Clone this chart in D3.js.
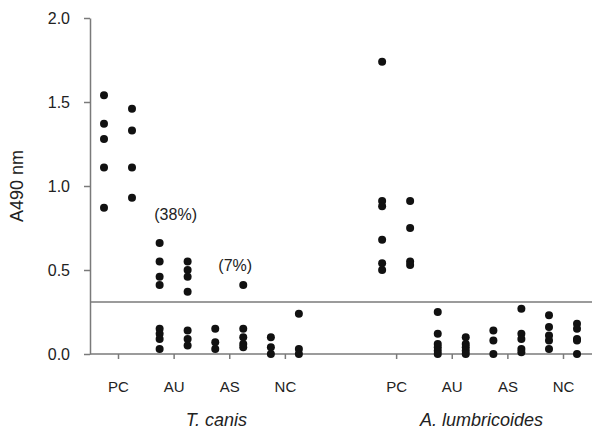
<!DOCTYPE html>
<html>
<head>
<meta charset="utf-8">
<script src="https://cdn.jsdelivr.net/npm/d3@7"></script>
<style>
  body { margin: 0; background: #fff; }
  text { font-family: "Liberation Sans", Arial, sans-serif; fill: #222; }
</style>
</head>
<body>
<div id="chart"></div>
<script>
// categories along the x axis, per organism
const categories = ["PC", "AU", "AS", "NC"];
const groups = ["T. canis", "A. lumbricoides"];

// A490 readings, two columns of dots per category (left / right)
const tCanisLeft = [
  [1.54, 1.37, 1.28, 1.11, 0.87],
  [0.66, 0.55, 0.46, 0.41, 0.15, 0.12, 0.09, 0.03],
  [0.15, 0.07, 0.03],
  [0.10, 0.04, 0.00]
];
const tCanisRight = [
  [1.46, 1.33, 1.11, 0.93],
  [0.55, 0.50, 0.46, 0.37, 0.14, 0.09, 0.05],
  [0.41, 0.15, 0.10, 0.06, 0.04],
  [0.24, 0.03, 0.00]
];
const aLumLeft = [
  [1.74, 0.91, 0.88, 0.68, 0.54, 0.50],
  [0.25, 0.12, 0.06, 0.04, 0.02, 0.00],
  [0.14, 0.08, 0.00],
  [0.23, 0.16, 0.11, 0.08, 0.03]
];
const aLumRight = [
  [0.91, 0.75, 0.55, 0.53],
  [0.10, 0.06, 0.04, 0.02, 0.00],
  [0.27, 0.12, 0.09, 0.03, 0.01],
  [0.18, 0.15, 0.09, 0.08, 0.00]
];
const cutoff = 0.31;
const yTicks = [0, 0.5, 1.0, 1.5, 2.0];
// percentage above cut-off: [group, category, label, value at text]
const notes = [
  ["T. canis", "AU", "(38%)", 0.83],
  ["T. canis", "AS", "(7%)", 0.53]
];

const width = 592, height = 430;
const axisColor = "#7a7a7a";

const svg = d3.select("#chart").append("svg")
  .attr("width", width)
  .attr("height", height);

// x slots: 4 categories, one empty slot, 4 categories
const slots = [];
groups.forEach((g, gi) => {
  if (gi > 0) slots.push("gap");
  categories.forEach(c => slots.push(g + "|" + c));
});
const x = d3.scalePoint().domain(slots).range([118, 563]);
const y = d3.scaleLinear().domain([0, 2]).range([354, 18]);
const colOffset = 14;

// flatten dots
const dots = [];
const addCols = (g, left, right) => {
  categories.forEach((c, ci) => {
    left[ci].forEach(v => dots.push({ key: g + "|" + c, side: -1, v }));
    right[ci].forEach(v => dots.push({ key: g + "|" + c, side: 1, v }));
  });
};
addCols(groups[0], tCanisLeft, tCanisRight);
addCols(groups[1], aLumLeft, aLumRight);

// y axis
const yAxis = svg.append("g")
  .attr("transform", "translate(90,0)")
  .call(d3.axisLeft(y).tickValues(yTicks).tickFormat(d3.format(".1f"))
    .tickSize(6).tickSizeOuter(0).tickPadding(14));
yAxis.select(".domain").attr("stroke", axisColor).attr("stroke-width", 1.5);
yAxis.selectAll(".tick line").attr("stroke", axisColor).attr("stroke-width", 1.5);
yAxis.selectAll(".tick text").attr("font-size", 16).attr("fill", "#222");

// x axis
const xAxis = svg.append("g")
  .attr("transform", "translate(0," + y(0) + ")")
  .call(d3.axisBottom(x).tickValues(slots.filter(s => s !== "gap"))
    .tickFormat(d => d.split("|")[1])
    .tickSize(5).tickPadding(22));
xAxis.select(".domain").remove();
xAxis.selectAll(".tick line").attr("stroke", axisColor).attr("stroke-width", 1.5);
xAxis.selectAll(".tick text").attr("font-size", 15).attr("fill", "#222");
xAxis.append("line")
  .attr("x1", 90).attr("x2", width)
  .attr("y1", 0).attr("y2", 0)
  .attr("stroke", axisColor).attr("stroke-width", 1.5);

// cut-off line
svg.append("line")
  .attr("x1", 90).attr("x2", width)
  .attr("y1", y(cutoff)).attr("y2", y(cutoff))
  .attr("stroke", axisColor).attr("stroke-width", 1.5);

// dots
svg.append("g").selectAll("circle")
  .data(dots)
  .join("circle")
  .attr("cx", d => x(d.key) + d.side * colOffset)
  .attr("cy", d => y(d.v))
  .attr("r", 4)
  .attr("fill", "#111");

// notes
svg.append("g").selectAll("text")
  .data(notes)
  .join("text")
  .attr("x", d => x(d[0] + "|" + d[1]) + (d[1] === "AS" ? 6 : 2))
  .attr("y", d => y(d[3]))
  .attr("dy", "0.35em")
  .attr("text-anchor", "middle")
  .attr("font-size", 16)
  .text(d => d[2]);

// group labels
svg.append("g").selectAll("text")
  .data(groups)
  .join("text")
  .attr("x", (g, i) => {
    const xs = categories.map(c => x(g + "|" + c));
    return (d3.min(xs) + d3.max(xs)) / 2 + (i === 0 ? 15 : 2);
  })
  .attr("y", 420)
  .attr("dy", "0.35em")
  .attr("text-anchor", "middle")
  .attr("font-size", 18)
  .attr("font-style", "italic")
  .text(d => d);

// y label
svg.append("text")
  .attr("transform", "translate(17," + y(1.0) + ") rotate(-90)")
  .attr("text-anchor", "middle")
  .attr("dy", "0.35em")
  .attr("font-size", 18)
  .text("A490 nm");
</script>
</body>
</html>
